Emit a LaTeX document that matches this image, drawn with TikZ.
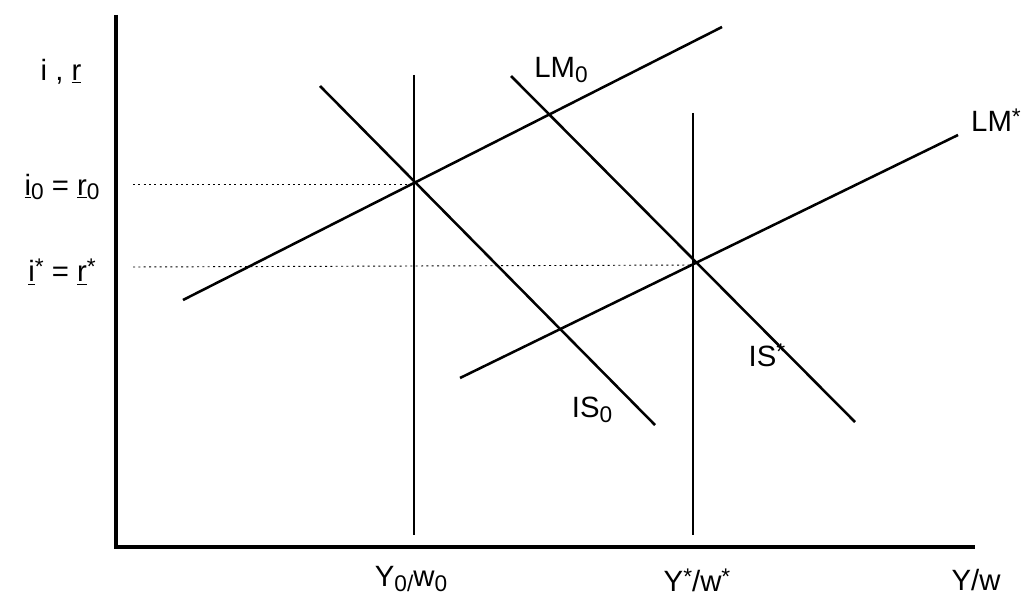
\documentclass[tikz,border=0pt]{standalone}
\usepackage{fontspec}
\setmainfont{Liberation Sans}
\newcommand{\mysub}[1]{\raisebox{-0.3ex}{\fontsize{17}{17}\selectfont #1}}
\newcommand{\mysup}[1]{\raisebox{0.45ex}{\fontsize{17}{17}\selectfont #1}}
\begin{document}
\begin{tikzpicture}[x=0.75pt,y=-0.75pt,
  curve/.style={line width=1.9pt},
  axis/.style={line width=2.4pt},
  guide/.style={line width=0.7pt, dash pattern=on 1.5pt off 2.5pt},
  lbl/.style={font=\fontsize{22}{24}\selectfont, inner sep=0pt}]
\useasboundingbox (0,0) rectangle (1027,598);
% axes
\coordinate (O) at (116,547);
\coordinate (ytop) at (116,15);
\coordinate (xend) at (975,547);
\draw[axis] (ytop) -- (O) -- (xend);
% equilibria
\coordinate (E0) at (414,184);
\coordinate (Es) at (693,265);
% vertical lines
\coordinate (v0t) at (414,75);
\coordinate (v0b) at (414,535);
\coordinate (vst) at (693,113);
\coordinate (vsb) at (693,535);
\draw[curve] (v0t) -- (v0b);
\draw[curve] (vst) -- (vsb);
% dotted guides
\coordinate (d0) at (133,184);
\coordinate (ds) at (133,267);
\draw[guide] (d0) -- (E0);
\draw[guide] (ds) -- (Es);
% LM0
\coordinate (lm0a) at (183,300);
\coordinate (lm0b) at (722,27);
\draw[curve] (lm0a) -- (lm0b);
% LM*
\coordinate (lmsa) at (460,378);
\coordinate (lmsb) at (958,135);
\draw[curve] (lmsa) -- (lmsb);
% IS0
\coordinate (is0a) at (320,86);
\coordinate (is0b) at (655,425);
\draw[curve] (is0a) -- (is0b);
% IS*
\coordinate (isa) at (511,76);
\coordinate (isb) at (855,422);
\draw[curve] (isa) -- (isb);
% labels
\node[lbl] (ir) at (61,72) {i , \underline{r}};
\node[lbl] (eq0) at (62,187) {\underline{i}\mysub{0} = \underline{r}\mysub{0}};
\node[lbl] (eqs) at (62,272) {\underline{i}\mysup{*} = \underline{r}\mysup{*}};
\node[lbl] (LM0) at (561,70) {LM\mysub{0}};
\node[lbl] (LMs) at (996,120) {LM\mysup{*}};
\node[lbl] (ISs) at (767,355) {IS\mysup{*}};
\node[lbl] (IS0) at (592,410) {IS\mysub{0}};
\node[lbl] (Y0) at (411,579) {Y\mysub{0/}w\mysub{0}};
\node[lbl] (Ys) at (697,580) {Y\mysup{*}/w\mysup{*}};
\node[lbl] (Yw) at (976,580) {Y/w};
\end{tikzpicture}
\end{document}
